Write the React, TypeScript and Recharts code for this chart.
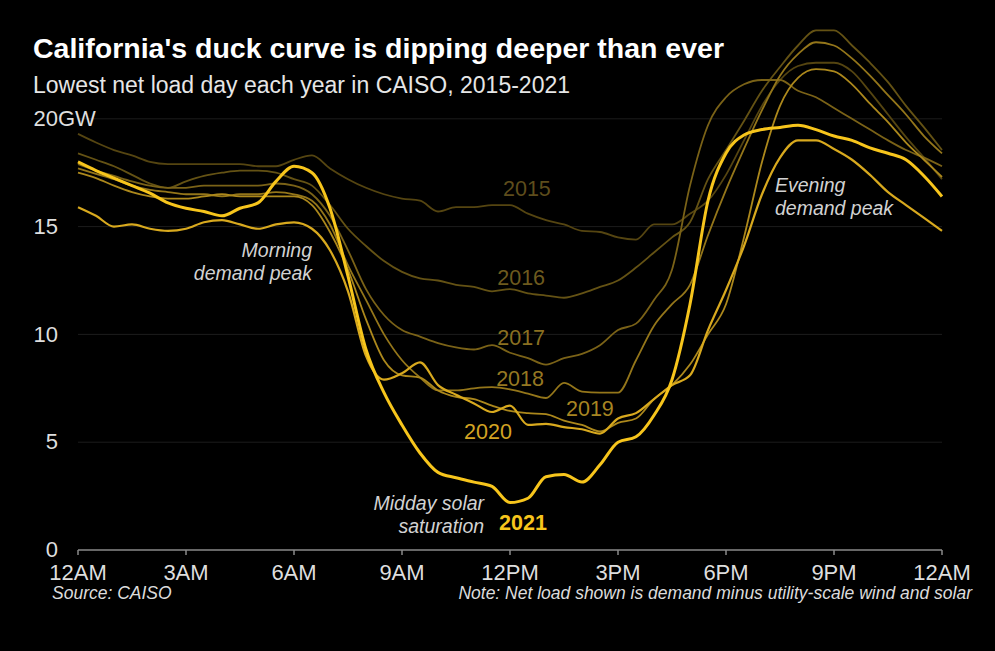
import { LineChart, Line, XAxis, YAxis, CartesianGrid, ReferenceDot } from "recharts";

// half-hourly, 12AM -> 12AM
const hours = [
  0, 0.5, 1, 1.5, 2, 2.5, 3, 3.5, 4, 4.5, 5, 5.5, 6, 6.5, 7, 7.5, 8, 8.5, 9, 9.5, 10, 10.5, 11, 11.5,
  12, 12.5, 13, 13.5, 14, 14.5, 15, 15.5, 16, 16.5, 17, 17.5, 18, 18.5, 19, 19.5, 20, 20.5, 21, 21.5,
  22, 22.5, 23, 23.5, 24,
];

// net load in GW
const load2015 = [
  19.3, 18.9, 18.55, 18.3, 18.0, 17.9, 17.9, 17.9, 17.9, 17.9, 17.8, 17.8, 18.1, 18.3, 17.7, 17.2,
  16.8, 16.5, 16.3, 16.2, 15.7, 15.9, 15.9, 16.0, 16.0, 15.6, 15.3, 15.1, 14.8, 14.75, 14.5, 14.4,
  15.1, 15.1, 15.6, 16.2, 17.4, 19.0, 20.6, 21.8, 22.45, 22.6, 22.6, 22.2, 21.25, 20.2, 19.15, 18.2, 17.2,
];
const load2016 = [
  18.4, 18.1, 17.8, 17.4, 17.0, 16.8, 17.1, 17.35, 17.5, 17.6, 17.6, 17.5, 17.2, 16.9, 16.0, 14.9,
  14.1, 13.4, 12.9, 12.6, 12.5, 12.3, 12.2, 12.0, 12.1, 11.9, 11.8, 11.7, 11.9, 12.2, 12.5, 13.1,
  13.8, 14.5, 15.2, 17.2, 18.55, 19.9, 21.3, 22.4, 23.4, 24.1, 24.1, 23.4, 22.6, 21.7, 20.6, 19.6, 18.55,
];
const load2017 = [
  17.9, 17.6, 17.35, 17.1, 16.9, 16.8, 16.8, 16.9, 16.9, 16.9, 16.9, 17.0, 16.9, 16.5, 15.5, 13.9,
  12.1, 10.9, 10.2, 9.9, 9.6, 9.4, 9.3, 9.5, 9.15, 8.9, 8.6, 8.9, 9.1, 9.5, 10.2, 10.5,
  11.6, 13.0, 16.9, 19.7, 21.0, 21.6, 21.8, 21.8, 21.3, 21.0, 20.5, 20.0, 19.5, 19.0, 18.55, 18.2, 17.8,
];
const load2018 = [
  17.7, 17.45, 17.2, 16.9, 16.7, 16.6, 16.5, 16.5, 16.4, 16.5, 16.5, 16.6, 16.5, 16.2, 15.1, 13.2,
  11.6, 10.0, 8.8, 8.0, 7.4, 7.4, 7.5, 7.55, 7.45, 7.25, 7.05, 7.75, 7.35, 7.3, 7.3, 8.8,
  10.4, 11.4, 12.3, 14.6, 16.7, 18.6, 20.4, 22.0, 23.0, 23.55, 23.4, 22.8, 22.0, 21.1, 20.2, 19.2, 18.4,
];
const load2019 = [
  17.5, 17.25, 16.9, 16.6, 16.4, 16.3, 16.3, 16.4, 16.5, 16.4, 16.4, 16.4, 16.4, 16.0, 14.75, 13.0,
  10.7, 8.8, 8.1, 8.0, 7.4, 7.1, 7.0, 6.7, 6.45, 6.35, 6.3, 6.0, 5.8, 5.5, 5.9, 6.1,
  7.0, 7.65, 8.6, 10.0, 11.4, 14.5, 18.0, 20.6, 21.9, 22.3, 22.2, 21.6, 20.7, 19.85, 18.9, 18.1, 17.3,
];
const load2020 = [
  15.9, 15.5, 15.0, 15.1, 14.9, 14.8, 14.9, 15.2, 15.3, 15.1, 14.9, 15.1, 15.2, 14.9, 13.9, 12.0,
  9.0, 7.9, 8.2, 8.7, 7.65, 7.2, 6.8, 6.4, 6.7, 5.8, 5.85, 5.7, 5.6, 5.4, 6.1, 6.35,
  7.0, 7.65, 8.1, 10.2, 12.06, 14.1, 16.5, 18.2, 19.0, 19.0, 18.6, 18.1, 17.4, 16.6, 16.0, 15.4, 14.8,
];
const load2021 = [
  18.0, 17.6, 17.25, 16.9, 16.55, 16.1, 15.85, 15.7, 15.5, 15.85, 16.1, 17.1, 17.8, 17.5, 15.85, 12.7,
  9.3, 7.3, 5.8, 4.5, 3.6, 3.35, 3.15, 2.95, 2.2, 2.4, 3.4, 3.5, 3.15, 3.95, 5.0, 5.25,
  6.25, 7.9, 11.4, 16.2, 18.4, 19.25, 19.5, 19.6, 19.7, 19.5, 19.2, 19.0, 18.65, 18.4, 18.1, 17.35, 16.4,
];

const years = ["2015", "2016", "2017", "2018", "2019", "2020", "2021"];
const loads = [load2015, load2016, load2017, load2018, load2019, load2020, load2021];
const lineColors = ["#554511", "#645214", "#7a6217", "#94761a", "#ac881c", "#d8a91e", "#f7c51c"];
const labelColors = ["#5e4d1c", "#6d5a1e", "#8a7021", "#957822", "#a78522", "#d3a423", "#f7c51c"];

const xTicks = [0, 3, 6, 9, 12, 15, 18, 21, 24];
const xTickLabels = ["12AM", "3AM", "6AM", "9AM", "12PM", "3PM", "6PM", "9PM", "12AM"];
const yTicks = [0, 5, 10, 15, 20];
const gridValues = [5, 10, 15, 20];

// where the year names sit (hour, GW)
const yearLabelHours = [12.47, 12.31, 12.31, 12.28, 14.22, 11.39, 12.36];
const yearLabelGW = [16.8, 12.66, 9.88, 7.98, 6.59, 5.52, 1.3];

const notes = [
  { lines: ["Morning", "demand peak"], hour: 6.5, gw: 13.9, anchor: "end" },
  { lines: ["Evening", "demand peak"], hour: 19.36, gw: 16.93, anchor: "start" },
  { lines: ["Midday solar", "saturation"], hour: 11.28, gw: 2.18, anchor: "end" },
];

const data = hours.map((h, i) => {
  const row: Record<string, number> = { hour: h };
  years.forEach((y, k) => {
    row["y" + y] = loads[k][i];
  });
  return row;
});

const FONT = "'Liberation Sans', Arial, Helvetica, sans-serif";

function XTick({ x, y, payload }: any) {
  const idx = xTicks.indexOf(payload.value);
  return (
    <text x={x} y={y + 23} textAnchor="middle" fill="#dedede" fontSize={22} fontFamily={FONT}>
      {xTickLabels[idx]}
    </text>
  );
}

function YTick({ x, y, payload }: any) {
  return (
    <g>
      <text x={x} y={y} dy="0.33em" textAnchor="end" fill="#dedede" fontSize={22} fontFamily={FONT}>
        {payload.value}
      </text>
      {payload.value === 20 && (
        <text x={x} y={y} dy="0.33em" textAnchor="start" fill="#dedede" fontSize={22} fontFamily={FONT}>
          GW
        </text>
      )}
    </g>
  );
}

export default function App() {
  return (
    <div
      style={{
        position: "absolute",
        left: 0,
        top: 0,
        width: 995,
        height: 651,
        background: "#000",
        overflow: "hidden",
      }}
    >
      <LineChart width={995} height={651} data={data} margin={{ top: 11, right: 53, bottom: 0, left: 0 }}>
        <CartesianGrid vertical={false} stroke="#1c1c1c" horizontalValues={gridValues} />
        <XAxis
          dataKey="hour"
          type="number"
          domain={[0, 24]}
          ticks={xTicks}
          height={101}
          stroke="#8a8a8a"
          strokeWidth={1.5}
          tickSize={5}
          tickMargin={2}
          tick={<XTick />}
        />
        <YAxis
          type="number"
          domain={[0, 25]}
          ticks={yTicks}
          width={78}
          axisLine={false}
          tickLine={false}
          tickSize={0}
          tickMargin={20}
          tick={<YTick />}
        />
        {years.map((y, k) => (
          <Line
            key={y}
            dataKey={"y" + y}
            type="monotone"
            stroke={lineColors[k]}
            strokeWidth={y === "2021" ? 3 : y === "2020" ? 2.2 : 1.8}
            strokeLinejoin="round"
            dot={false}
            activeDot={false}
            isAnimationActive={false}
          />
        ))}
        {years.map((y, k) => (
          <ReferenceDot
            key={"lbl" + y}
            x={yearLabelHours[k]}
            y={yearLabelGW[k]}
            ifOverflow="visible"
            shape={(p: any) => (
              <text
                x={p.cx}
                y={p.cy}
                dy="0.36em"
                textAnchor="middle"
                fill={labelColors[k]}
                fontSize={21.5}
                fontWeight={y === "2021" ? "bold" : "normal"}
                fontFamily={FONT}
              >
                {y}
              </text>
            )}
          />
        ))}
        {notes.map((n) => (
          <ReferenceDot
            key={n.lines[0]}
            x={n.hour}
            y={n.gw}
            ifOverflow="visible"
            shape={(p: any) => (
              <text
                x={p.cx}
                y={p.cy}
                dy="0.36em"
                textAnchor={n.anchor}
                fill="#d2d2d2"
                fontSize={19.5}
                fontStyle="italic"
                fontFamily={FONT}
              >
                {n.lines.map((t, i) => (
                  <tspan key={t} x={p.cx} dy={i === 0 ? "0.36em" : 22.5}>
                    {t}
                  </tspan>
                ))}
              </text>
            )}
          />
        ))}
      </LineChart>
      <svg
        width={995}
        height={651}
        style={{ position: "absolute", left: 0, top: 0, pointerEvents: "none" }}
      >
        <text x={33} y={58} fill="#ffffff" fontSize={28.5} fontWeight="bold" fontFamily={FONT}>
          California's duck curve is dipping deeper than ever
        </text>
        <text x={33} y={93} fill="#e6e6e6" fontSize={23} fontFamily={FONT}>
          Lowest net load day each year in CAISO, 2015-2021
        </text>
        <text x={52} y={599} fill="#dcdcdc" fontSize={17.5} fontStyle="italic" fontFamily={FONT}>
          Source: CAISO
        </text>
        <text
          x={972}
          y={599}
          textAnchor="end"
          fill="#dcdcdc"
          fontSize={17.5}
          fontStyle="italic"
          fontFamily={FONT}
        >
          Note: Net load shown is demand minus utility-scale wind and solar
        </text>
      </svg>
    </div>
  );
}
